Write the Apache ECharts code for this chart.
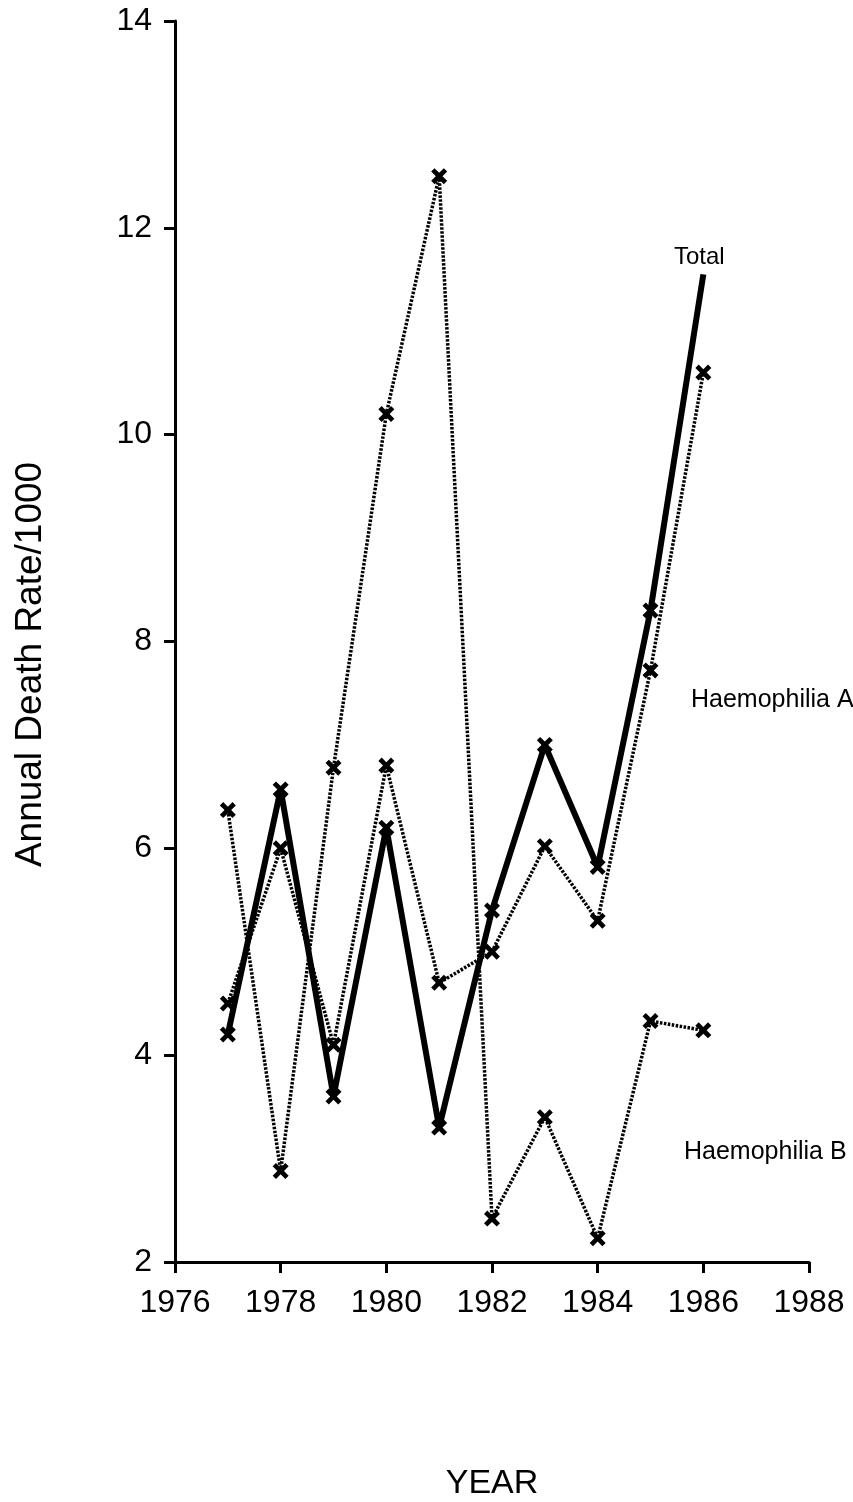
<!DOCTYPE html>
<html>
<head>
<meta charset="utf-8">
<script src="https://cdn.jsdelivr.net/npm/echarts@6/dist/echarts.min.js"></script>
<style>
html,body{margin:0;padding:0;background:#fff;}
#c{width:853px;height:1502px;}
</style>
</head>
<body>
<div id="c"></div>
<script>
const years = [1977, 1978, 1979, 1980, 1981, 1982, 1983, 1984, 1985, 1986];
const totalRate = [4.2, 6.57, 3.6, 6.2, 3.3, 5.4, 7.0, 5.82, 8.3, 11.55];
const haemoARate = [4.5, 6.0, 4.1, 6.8, 4.7, 5.0, 6.02, 5.3, 7.72, 10.6];
const haemoBRate = [6.37, 2.88, 6.78, 10.2, 12.5, 2.42, 3.4, 2.23, 4.33, 4.24];
const xTicks = [1976, 1978, 1980, 1982, 1984, 1986, 1988];
const yTicks = [2, 4, 6, 8, 10, 12, 14];

const FONT = '"Liberation Sans", Arial, Helvetica, sans-serif';
const XSYM = 'path://M0,2.5 L2.5,0 L6,3.5 L9.5,0 L12,2.5 L8.5,6 L12,9.5 L9.5,12 L6,8.5 L2.5,12 L0,9.5 L3.5,6 Z';

function pts(vals, skipLastMarker) {
  return years.map((y, i) => {
    const item = { value: [y, vals[i]] };
    if (skipLastMarker && i === years.length - 1) item.symbol = 'none';
    return item;
  });
}

const chart = echarts.init(document.getElementById('c'), null, { renderer: 'canvas' });
chart.setOption({
  backgroundColor: '#fff',
  animation: false,
  textStyle: { fontFamily: FONT, color: '#000' },
  grid: { left: 175, right: 44, top: 21, bottom: 240, containLabel: false, outerBoundsMode: 'none' },
  xAxis: {
    type: 'value',
    min: xTicks[0], max: xTicks[xTicks.length - 1], interval: 2,
    name: 'YEAR', nameLocation: 'middle', nameGap: 205,
    nameTextStyle: { fontSize: 34, color: '#000', fontFamily: FONT },
    axisLine: { lineStyle: { color: '#000', width: 3 } },
    axisTick: { show: true, inside: false, length: 11, lineStyle: { color: '#000', width: 3 } },
    axisLabel: { fontSize: 32, color: '#000', margin: 25, fontFamily: FONT, formatter: v => String(v) },
    splitLine: { show: false }
  },
  yAxis: {
    type: 'value',
    min: yTicks[0], max: yTicks[yTicks.length - 1], interval: 2,
    name: 'Annual Death Rate/1000', nameLocation: 'middle', nameGap: 126, nameRotate: 90,
    nameTextStyle: { fontSize: 37, color: '#000', fontFamily: FONT, padding: [0, 46, 0, 0] },
    axisLine: { show: true, lineStyle: { color: '#000', width: 3 } },
    axisTick: { show: true, inside: false, length: 11, lineStyle: { color: '#000', width: 3 } },
    axisLabel: { fontSize: 32, color: '#000', margin: 23, fontFamily: FONT },
    splitLine: { show: false }
  },
  series: [
    {
      name: 'Haemophilia B', type: 'line', data: pts(haemoBRate, false),
      symbol: XSYM, symbolSize: 16,
      lineStyle: { color: '#000', width: 3.5, type: [2.5, 1.5] },
      itemStyle: { color: '#000' }, z: 2
    },
    {
      name: 'Haemophilia A', type: 'line', data: pts(haemoARate, false),
      symbol: XSYM, symbolSize: 16,
      lineStyle: { color: '#000', width: 3.5, type: [2.5, 1.5] },
      itemStyle: { color: '#000' }, z: 3
    },
    {
      name: 'Total', type: 'line', data: pts(totalRate, true),
      symbol: XSYM, symbolSize: 16,
      lineStyle: { color: '#000', width: 6 },
      itemStyle: { color: '#000' }, z: 4
    }
  ],
  graphic: [
    { type: 'text', left: 674, top: 245, style: { text: 'Total', fontSize: 24, fontFamily: FONT, fill: '#000' } },
    { type: 'text', left: 691, top: 688, style: { text: 'Haemophilia A', fontSize: 25, fontFamily: FONT, fill: '#000' } },
    { type: 'text', left: 684, top: 1140, style: { text: 'Haemophilia B', fontSize: 25, fontFamily: FONT, fill: '#000' } }
  ]
});
</script>
</body>
</html>
